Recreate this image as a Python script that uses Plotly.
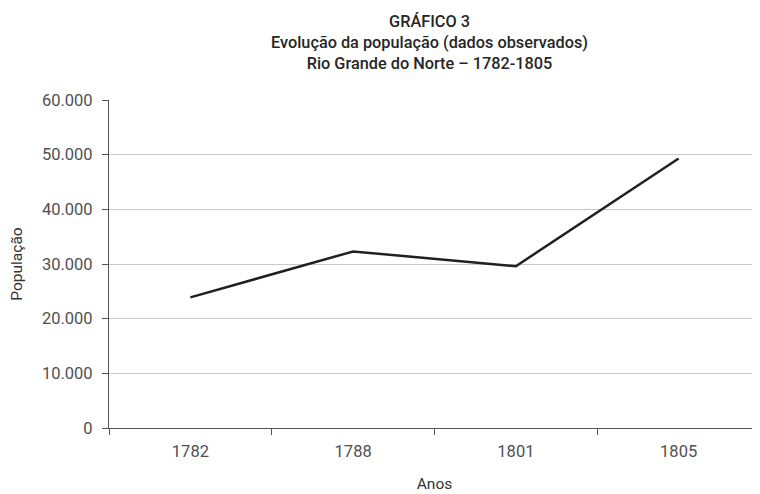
import plotly.graph_objects as go

anos = ["1782", "1788", "1801", "1805"]
populacao = [23900, 32300, 29600, 49300]
y_ticks = [0, 10000, 20000, 30000, 40000, 50000, 60000]
titulo = ["GRÁFICO 3",
          "Evolução da população (dados observados)",
          "Rio Grande do Norte – 1782-1805"]

fig = go.Figure()
fig.add_trace(go.Scatter(
    x=anos, y=populacao, mode="lines",
    line=dict(color="#231f20", width=2.5),
    showlegend=False,
))

# page body has an 8px default margin, so the figure is sized to fill the rest
fig.update_layout(
    width=752, height=486,
    margin=dict(l=101, r=0, t=92, b=66),
    paper_bgcolor="white", plot_bgcolor="white",
    separators=",.",
    font=dict(family="Roboto", color="#444444", size=16.5),
)

fig.add_annotation(
    text="<br>".join(titulo),
    xref="paper", yref="paper", x=0.493, y=1 + 90 / 328,
    xanchor="center", yanchor="top", showarrow=False, align="center",
    font=dict(family="Roboto", size=16.3, color="#262626", weight=500),
)

fig.update_xaxes(
    type="category", range=[-0.5, 3.5], automargin=False,
    showline=True, linecolor="#555555", linewidth=1.2,
    ticks="outside", tickson="boundaries", ticklen=6, tickcolor="#555555",
    showgrid=False,
    title=dict(text="Anos", font=dict(size=15.5, color="#333333"), standoff=18),
    tickfont=dict(size=16.5, color="#505050"),
    ticklabelstandoff=8,
)
fig.update_yaxes(
    range=[0, 60000], tickvals=y_ticks, tickformat=",d", automargin=False,
    showline=True, linecolor="#555555", linewidth=1.2,
    ticks="outside", ticklen=6, tickcolor="#555555",
    showgrid=True, gridcolor="#c8c8c8", gridwidth=1,
    zeroline=False,
    title=dict(text="População", font=dict(size=15.5, color="#333333"), standoff=22),
    tickfont=dict(size=16.5, color="#505050"),
    ticklabelstandoff=6,
)

fig.write_html("out.html")
